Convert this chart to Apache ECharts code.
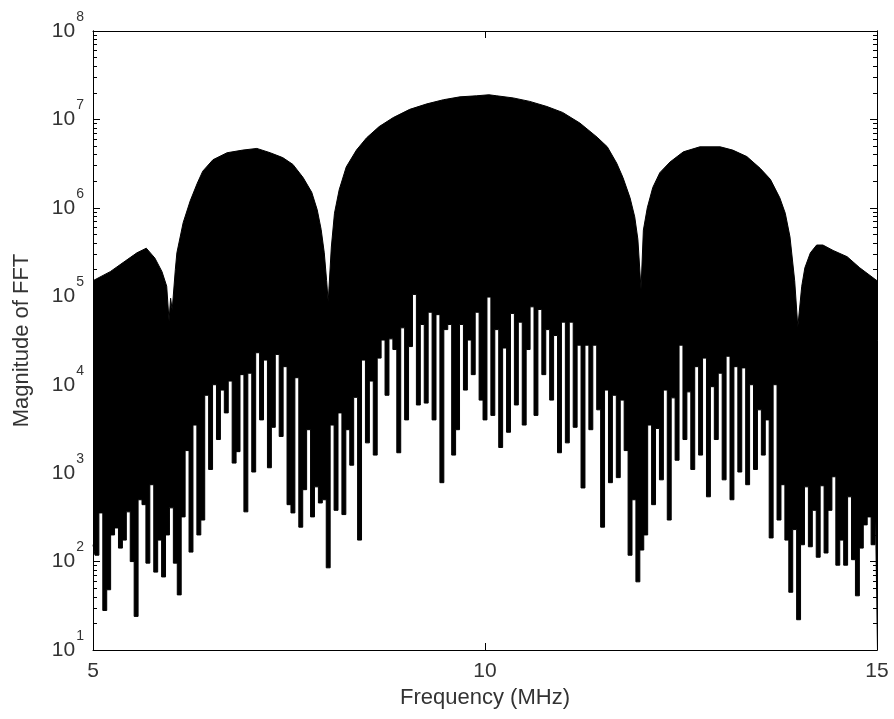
<!DOCTYPE html>
<html>
<head>
<meta charset="utf-8">
<title>Magnitude of FFT</title>
<script src="https://cdn.jsdelivr.net/npm/echarts@6.0.0/dist/echarts.min.js"></script>
<style>
  html, body { margin: 0; padding: 0; background: #fff; }
  #chart { width: 894px; height: 719px; }
</style>
</head>
<body>
<div id="chart"></div>
<script>
// upper envelope of the spectrum (MHz, magnitude)
var hiFreq = [5.00, 5.22, 5.41, 5.56, 5.68, 5.79, 5.88, 5.94, 5.97, 5.99, 6.01, 6.05, 6.07, 6.15, 6.24, 6.33, 6.40, 6.53, 6.71, 6.91,
  7.09, 7.26, 7.42, 7.55, 7.68, 7.79, 7.86, 7.91, 7.95, 7.98, 8.00,
  8.04, 8.08, 8.14, 8.23, 8.36, 8.49, 8.65, 8.83, 9.04, 9.26, 9.47, 9.68, 9.89, 10.05, 10.15, 10.36, 10.57, 10.79, 10.99,
  11.21, 11.43, 11.56, 11.68, 11.76, 11.85, 11.91, 11.95, 11.99,
  12.02, 12.07, 12.14, 12.23, 12.36, 12.53, 12.74, 13.00, 13.16, 13.34, 13.51, 13.64, 13.76, 13.83, 13.89, 13.95, 13.99,
  14.04, 14.08, 14.15, 14.23, 14.31, 14.44, 14.62, 14.78, 15.00];
var hiMag = [1.5e5, 1.9e5, 2.5e5, 3.1e5, 3.5e5, 2.7e5, 1.9e5, 1.3e5, 5.3e4, 9.5e4, 7e4, 2.0e5, 3.1e5, 6.8e5, 1.2e6, 1.9e6, 2.6e6, 3.5e6, 4.2e6, 4.5e6,
  4.7e6, 4.2e6, 3.7e6, 3.1e6, 2.2e6, 1.5e6, 9.5e5, 5.7e5, 3.1e5, 1.5e5, 8.6e4,
  3.6e5, 8.7e5, 1.6e6, 2.9e6, 4.5e6, 6.2e6, 8.3e6, 1.05e7, 1.3e7, 1.5e7, 1.67e7, 1.8e7, 1.85e7, 1.9e7, 1.85e7, 1.75e7, 1.6e7, 1.4e7, 1.2e7,
  9.1e6, 6.3e6, 4.9e6, 3.2e6, 2.2e6, 1.3e6, 7.9e5, 4.4e5, 1.2e5,
  5.6e5, 1.0e6, 1.7e6, 2.5e6, 3.3e6, 4.3e6, 4.9e6, 4.9e6, 4.5e6, 3.8e6, 2.8e6, 2.1e6, 1.3e6, 8.7e5, 4.7e5, 1.5e5, 4.5e4,
  1.3e5, 2.1e5, 3.1e5, 3.8e5, 3.8e5, 3.3e5, 2.8e5, 2.1e5, 1.5e5];

// lower edge of the filled trace, one value every 0.05 MHz from 5 MHz
var loStart = 5, loStep = 0.05;
var loMag = [
  155, 118, 355, 28, 48, 200, 240, 142, 175, 365, 100, 24, 500, 440, 96, 740, 76, 175, 67, 200,
  405, 96, 42, 320, 1800, 128, 3500, 200, 295, 7600, 1100, 10000, 2400, 8700, 4800, 11000, 1300, 1750, 13000, 365,
  13500, 1030, 23000, 4000, 19000, 1150, 3300, 22000, 2600, 16000, 440, 355, 12000, 245, 650, 3100, 320, 700, 460, 500,
  85, 3500, 380, 4800, 340, 3100, 1230, 7200, 175, 19000, 2200, 11000, 1600, 20000, 32000, 7600, 33000, 25000, 1700, 44000,
  4000, 27000, 105000, 5900, 48000, 6200, 66000, 4000, 62000, 780, 42000, 48000, 1600, 3100, 48000, 8700, 32000, 13000, 66000, 6700,
  4000, 98000, 4500, 42000, 1950, 26000, 2900, 64000, 5900, 51000, 3500, 25000, 76000, 4500, 71000, 13000, 42000, 6700, 36000, 1700,
  51000, 2200, 51000, 3300, 28000, 680, 28000, 3100, 28000, 5200, 245, 8700, 780, 7600, 890, 6700, 1800, 118, 500, 59,
  135, 200, 3500, 440, 3200, 840, 8700, 295, 7100, 1400, 28000, 2400, 8300, 1100, 16000, 1600, 20000, 540, 9500, 2400,
  13500, 840, 21000, 500, 16000, 1030, 15500, 740, 10000, 1100, 5200, 1600, 4000, 185, 10000, 295, 740, 175, 45, 230,
  22, 155, 700, 147, 380, 112, 720, 125, 380, 910, 91, 175, 91, 540, 105, 41, 142, 260, 320, 155,
  295];

var xTicks = [5, 10, 15];
var yMajor = [10, 100, 1000, 10000, 100000, 1000000, 10000000, 100000000];
var yMinor = [];
for (var d = 0; d < yMajor.length - 1; d++) {
  for (var m = 2; m <= 9; m++) yMinor.push(m * yMajor[d]);
}

var hiData = hiFreq.map(function (f, i) { return [f, hiMag[i]]; });
var loData = loMag.map(function (v, i) { return [+(loStart + i * loStep).toFixed(2), v]; });

var font = 'Liberation Sans, Arial, sans-serif';
var txt = '#333';
var axisLine = { show: true, onZero: false, lineStyle: { color: '#000', width: 1 } };

function yAxisDef(pos, ticks, len, labels) {
  return {
    type: 'log', logBase: 10, min: 10, max: 1e8, position: pos, z: 10,
    axisLine: axisLine,
    axisTick: { show: true, inside: true, length: len, customValues: ticks, lineStyle: { color: '#000' } },
    axisLabel: labels ? {
      show: true, customValues: yMajor, margin: 9, fontFamily: font,
      formatter: function (v) {
        var e = Math.round(Math.log(v) / Math.LN10);
        return '{b|10}{e|' + e + '}';
      },
      rich: {
        b: { fontSize: 21, color: txt, fontFamily: font },
        e: { fontSize: 14, color: txt, fontFamily: font, padding: [0, 0, 28, 1] }
      }
    } : { show: false },
    splitLine: { show: false }
  };
}

var chart = echarts.init(document.getElementById('chart'));
chart.setOption({
  animation: false,
  backgroundColor: '#fff',
  grid: { left: 93, right: 17, top: 31, bottom: 69, show: false },
  xAxis: [{
    type: 'value', min: 5, max: 15, interval: 5, position: 'bottom', z: 10,
    name: 'Frequency (MHz)', nameLocation: 'middle', nameGap: 35,
    nameTextStyle: { fontSize: 22, color: txt, fontFamily: font },
    axisLine: axisLine,
    axisTick: { show: true, inside: true, length: 7, lineStyle: { color: '#000' } },
    axisLabel: { show: true, margin: 11, fontSize: 21, color: txt, fontFamily: font },
    splitLine: { show: false }
  }, {
    type: 'value', min: 5, max: 15, interval: 5, position: 'top', z: 10,
    axisLine: axisLine,
    axisTick: { show: true, inside: true, length: 7, lineStyle: { color: '#000' } },
    axisLabel: { show: false },
    splitLine: { show: false }
  }],
  yAxis: [
    Object.assign(yAxisDef('left', yMajor, 7, true), {
      name: 'Magnitude of FFT', nameLocation: 'middle', nameGap: 60,
      nameTextStyle: { fontSize: 22, color: txt, fontFamily: font }
    }),
    yAxisDef('left', yMinor, 4, false),
    yAxisDef('right', yMajor, 7, false),
    yAxisDef('right', yMinor, 4, false)
  ],
  series: [{
    name: 'envelope', type: 'line', data: hiData, symbol: 'none', z: 2,
    lineStyle: { color: '#000', width: 1 },
    areaStyle: { color: '#000', opacity: 1, origin: 'start' }
  }, {
    name: 'floor', type: 'line', data: loData, symbol: 'none', step: 'middle', z: 3,
    lineStyle: { color: '#000', width: 1 },
    areaStyle: { color: '#fff', opacity: 1, origin: 'start' }
  }]
});
</script>
</body>
</html>
